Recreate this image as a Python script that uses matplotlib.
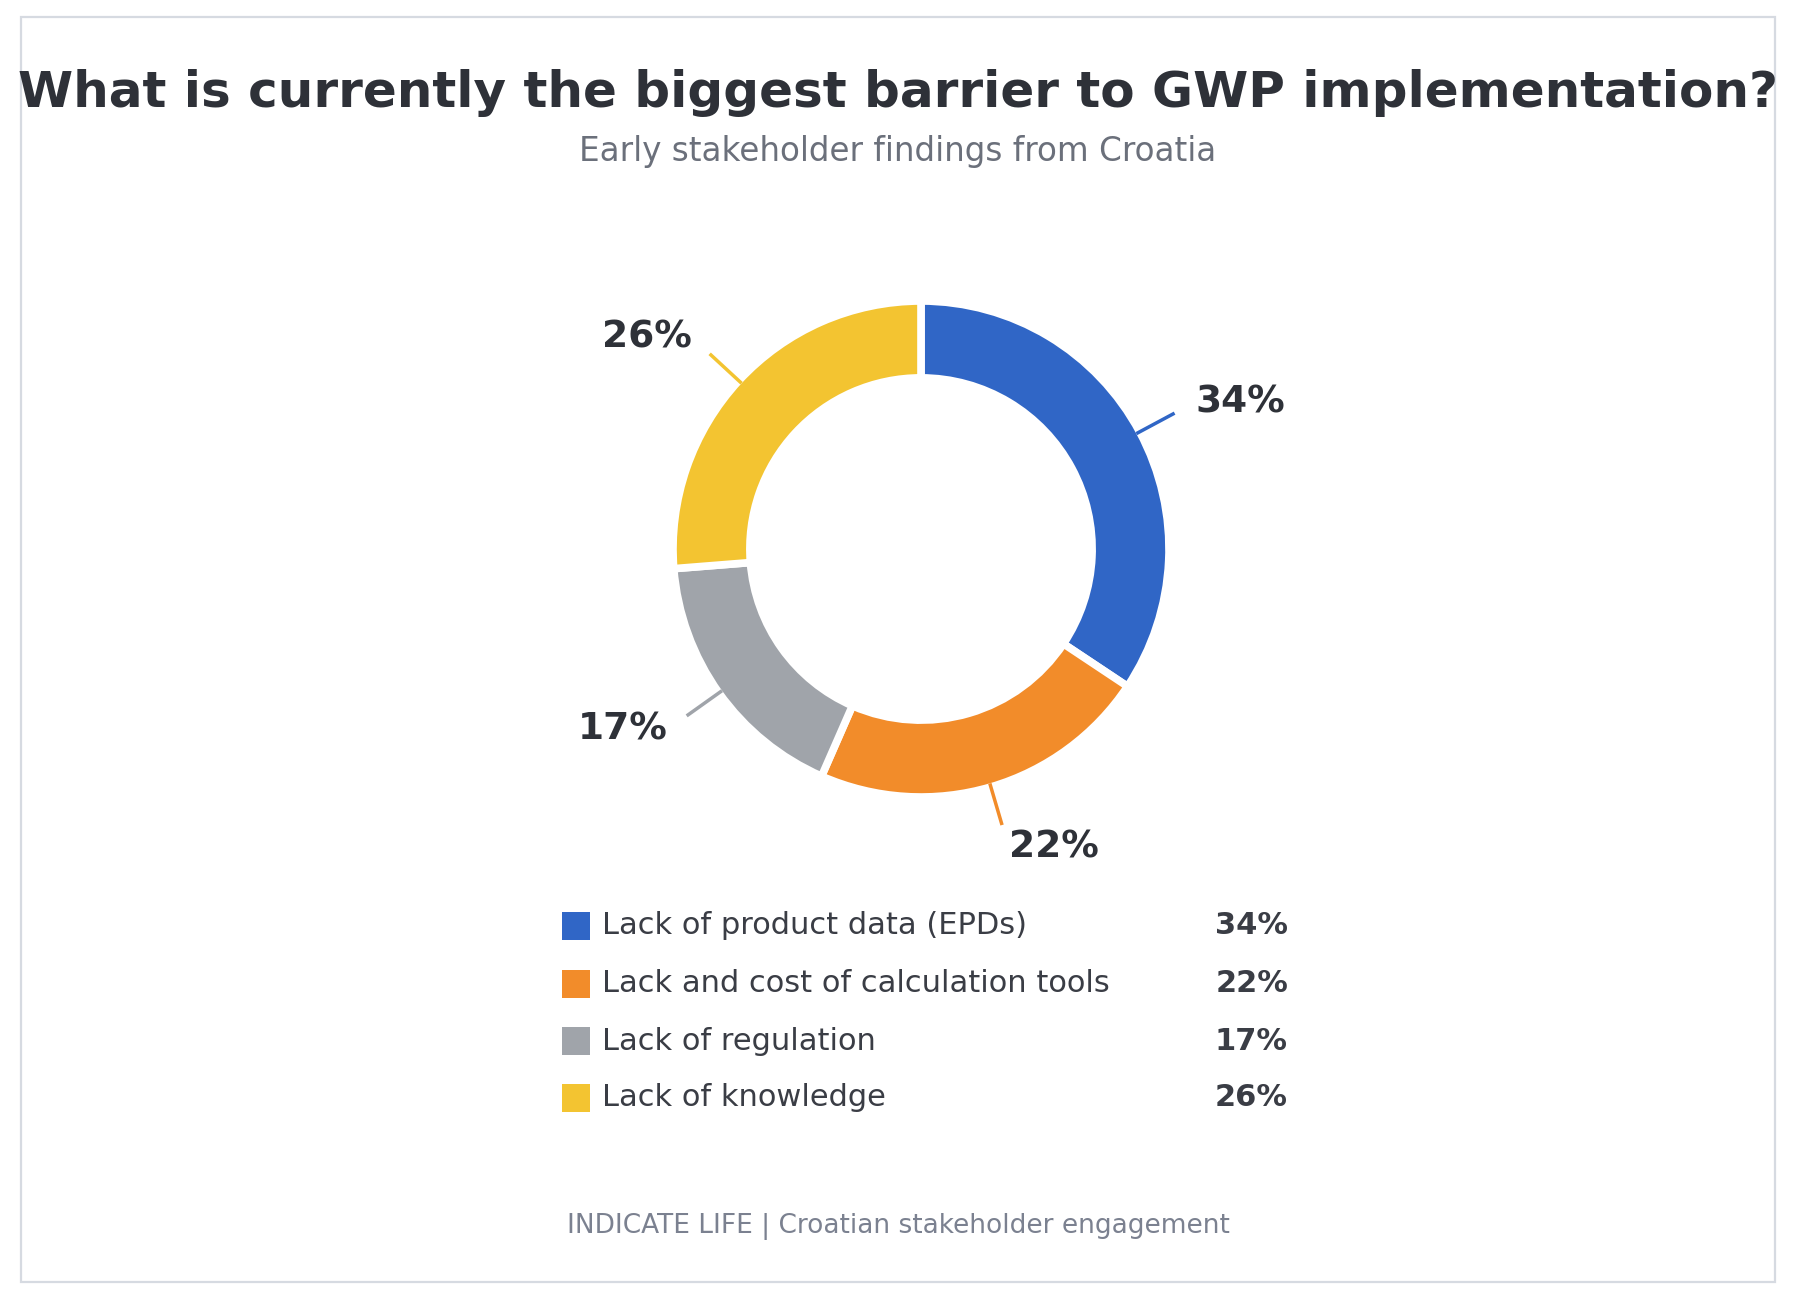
import matplotlib
matplotlib.use("Agg")
import matplotlib.pyplot as plt
import numpy as np
from matplotlib.patches import Rectangle

# data
categories = ["Lack of product data (EPDs)", "Lack and cost of calculation tools",
              "Lack of regulation", "Lack of knowledge"]
shares = [34, 22, 17, 26]
colors = ["#3066c6", "#f28c2a", "#a0a4aa", "#f3c431"]

title = "What is currently the biggest barrier to GWP implementation?"
subtitle = "Early stakeholder findings from Croatia"
footer = "INDICATE LIFE | Croatian stakeholder engagement"

W, H = 1796, 1300
DARK = "#2e3138"


def fx(x):
    return x / W


def fy(y):
    return 1 - y / H


fig = plt.figure(figsize=(W / 100, H / 100), dpi=100)
fig.patch.set_facecolor("white")

# card border
fig.patches.append(Rectangle((fx(21), fy(1282)), fx(1775) - fx(21), fy(17) - fy(1282),
                             transform=fig.transFigure, fill=False,
                             edgecolor="#d6dae1", linewidth=1.6))

fig.text(0.5, fy(93), title, ha="center", va="center", fontsize=36,
         fontweight="bold", color=DARK)
fig.text(0.5, fy(152), subtitle, ha="center", va="center", fontsize=23.5,
         color="#6b707b")

# donut: axes 700px square centred at (921, 549), radius 1 = 248 px
cx, cy, half = 921, 549, 350
ax = fig.add_axes([fx(cx - half), fy(cy + half), 2 * half / W, 2 * half / H])

wedges, _ = ax.pie(shares, colors=colors, startangle=90, counterclock=False,
                   radius=1.0, wedgeprops=dict(width=0.31, edgecolor="white",
                                               linewidth=5.5))
for w in wedges:
    w.set_zorder(3)

for w, c, v in zip(wedges, colors, shares):
    ang = np.deg2rad((w.theta1 + w.theta2) / 2)
    ca, sa = np.cos(ang), np.sin(ang)
    ax.plot([0.985 * ca, 1.16 * ca], [0.985 * sa, 1.16 * sa], color=c, lw=2.5,
            zorder=4, solid_capstyle="butt")
    ax.text(1.255 * ca, 1.255 * sa, f"{v}%", ha="left" if ca > 0 else "right",
            va="center", fontsize=27, fontweight="bold", color=DARK)

# pie() resets the limits, so fix the scale afterwards
lim = half / 248
ax.set_xlim(-lim, lim)
ax.set_ylim(-lim, lim)
ax.set_aspect("equal")
ax.axis("off")

# legend rows
row_y = [926, 984, 1041, 1098]
for yy, lab, v, c in zip(row_y, categories, shares, colors):
    fig.patches.append(Rectangle((fx(562), fy(yy + 14)), 28 / W, 28 / H,
                                 transform=fig.transFigure, facecolor=c,
                                 edgecolor="none"))
    fig.text(fx(602), fy(yy), lab, ha="left", va="center", fontsize=22,
             color="#3a3d45")
    fig.text(fx(1288), fy(yy), f"{v}%", ha="right", va="center", fontsize=22,
             fontweight="bold", color="#3a3d45")

fig.text(0.5, fy(1227), footer, ha="center", va="center", fontsize=19,
         color="#7b8190")

fig.savefig("out.png", dpi=100, facecolor="white")
